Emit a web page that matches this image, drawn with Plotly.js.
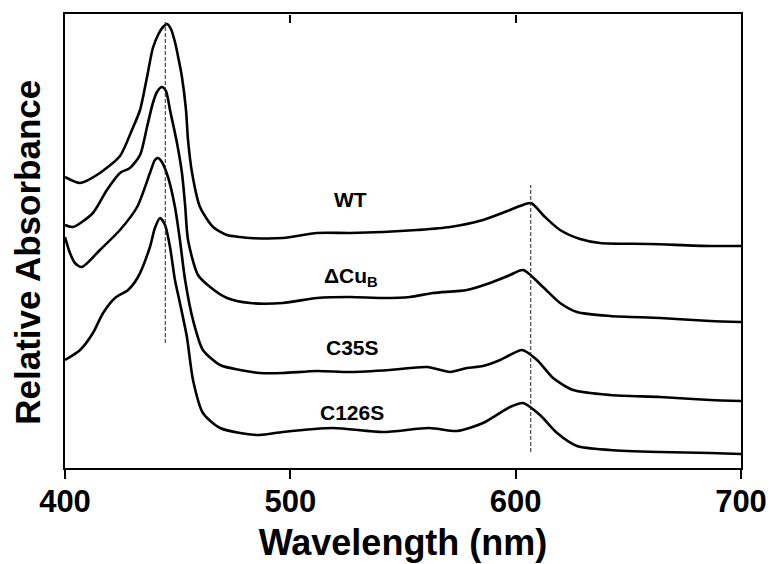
<!DOCTYPE html>
<html>
<head>
<meta charset="utf-8">
<script src="https://cdn.plot.ly/plotly-3.0.1.min.js"></script>
<style>html,body{margin:0;padding:0;background:#fff;}#chart{width:771px;height:564px;}</style>
</head>
<body>
<div id="chart"></div>
<script>
// Relative absorbance (arbitrary units)
const wtX = [400,406.7,415.5,424.4,429.7,433.3,436.4,439,441.5,443.5,445.3,447,448.8,450.5,451.9,453.7,454.6,456.4,459.9,465.7,471.9,477.7,482.1,496.7,511.8,526.5,541.1,556.2,570.9,585.5,597.5,601.9,606.8,613,619.7,628.6,637.4,659.6,686.3,700];
const wtY = [291,285,295,312,338,358,391,420,434,441,444,439,426,408,391,358,328,295,261,241,233,231,230,230,235,235,236,238,241,248,258,262,265,251,238,229,225,224,222,222];

const cubX = [400,403.6,412.4,418.6,424.4,428.8,433.3,436.4,439,440.8,443,444.8,446.6,449.7,451.9,453.3,454.6,459,464.4,471.9,482.1,496.7,511.8,526.5,541.1,553.1,563.3,578.4,588.6,597.5,603.3,612.1,619.7,627.2,641.9,664.1,686.3,700];
const cubY = [243,241,255,278,295,300,313,341,365,376,381,377,358,325,295,263,228,193,181,170,165,165,170,171,170,171,175,178,185,193,198,181,165,156,152,150,147,146];

const c35X = [400,402.2,404.4,407.5,415.5,424.4,432,437.7,439.9,441.3,443,445.7,448.8,451,453.3,456.8,461.2,468.8,477.7,486.5,496.7,511.8,526.5,544.2,560.7,570.9,578.4,585.5,593.1,597.5,602.8,609.5,616.6,625.5,641.9,664.1,686.3,700];
const c35Y = [231,215,205,201,218,238,261,295,308,310,306,291,261,228,188,148,118,103,98,95,95,97,96,98,101,96,100,102,108,113,118,108,90,78,73,71,68,67];

const c126X = [400,406.7,412.4,416.9,422.2,428,432.4,437.7,439.9,442.2,444.4,446.6,448.8,451,454.1,456.8,461.2,468.8,477.7,486.5,496.7,518.9,541.1,561.6,574,585.5,597.5,603.3,610.8,618.4,627.2,641.9,664.1,686.3,700];
const c126Y = [108,118,135,155,170,178,191,221,240,250,243,221,188,165,131,88,55,40,35,33,36,40,36,40,37,45,61,65,53,35,22,18,16,15,14];

const markerX = [444.5, 606.7];
const markerY0 = [125, 16];
const markerY1 = [446, 283];

const labels = ['WT', 'ΔCu<sub>B</sub>', 'C35S', 'C126S'];
const labelX = [526.5, 527, 527.4, 527.4];
const labelY = [269, 191, 121, 56];

const xTicks = [400, 500, 600, 700];
const topTicks = [500, 600];
const xTitle = 'Wavelength (nm)';
const yTitle = 'Relative Absorbance';

const FONT = 'Liberation Sans, Arial, Helvetica, sans-serif';

const curve = (x, y) => ({
  x: x, y: y, type: 'scatter', mode: 'lines',
  line: {color: '#000', width: 2.6, shape: 'spline', smoothing: 0.7},
  hoverinfo: 'skip', showlegend: false
});

const traces = [curve(wtX, wtY), curve(cubX, cubY), curve(c35X, c35Y), curve(c126X, c126Y)];
for (let i = 0; i < markerX.length; i++) {
  traces.push({
    x: [markerX[i], markerX[i]], y: [markerY0[i], markerY1[i]],
    xaxis: 'x2', yaxis: 'y', type: 'scatter', mode: 'lines',
    line: {color: '#222', width: 1, dash: '4px,2px'},
    hoverinfo: 'skip', showlegend: false
  });
}

const annotations = labels.map((t, i) => ({
  x: labelX[i], y: labelY[i], xref: 'x', yref: 'y', text: t, showarrow: false,
  font: {size: 21, family: FONT, weight: 'bold', color: '#000'}
}));
annotations.push({
  text: yTitle, textangle: -90, showarrow: false,
  xref: 'paper', yref: 'paper', x: -0.055, y: 0.476, xanchor: 'center', yanchor: 'middle',
  font: {size: 35, family: FONT, weight: 'bold', color: '#000'}
});

const layout = {
  width: 771, height: 564,
  margin: {l: 65, r: 30, t: 14, b: 96},
  paper_bgcolor: '#fff', plot_bgcolor: 'rgba(0,0,0,0)',
  font: {family: FONT, color: '#000'},
  xaxis: {
    range: [400, 700], tickvals: xTicks, ticktext: xTicks.map(String),
    ticks: 'outside', ticklen: 9, tickwidth: 2, tickcolor: '#000',
    ticklabelstandoff: -4,
    showline: true, linewidth: 2, linecolor: '#000', mirror: true,
    showgrid: false, zeroline: false,
    tickfont: {size: 31, family: FONT, weight: 'bold'},
    title: {text: xTitle, font: {size: 36, family: FONT, weight: 'bold'}, standoff: 12}
  },
  xaxis2: {
    overlaying: 'x', anchor: 'free', position: 1, side: 'bottom', range: [400, 700],
    tickmode: 'array', tickvals: topTicks,
    ticks: 'outside', ticklen: 8, tickwidth: 2, tickcolor: '#000',
    showticklabels: false,
    showline: false, showgrid: false, zeroline: false
  },
  yaxis: {
    range: [0, 454], showticklabels: false, ticks: '',
    showline: true, linewidth: 2, linecolor: '#000', mirror: true,
    showgrid: false, zeroline: false
  },
  annotations: annotations
};

Plotly.newPlot('chart', traces, layout, {displayModeBar: false, staticPlot: true});
</script>
</body>
</html>
